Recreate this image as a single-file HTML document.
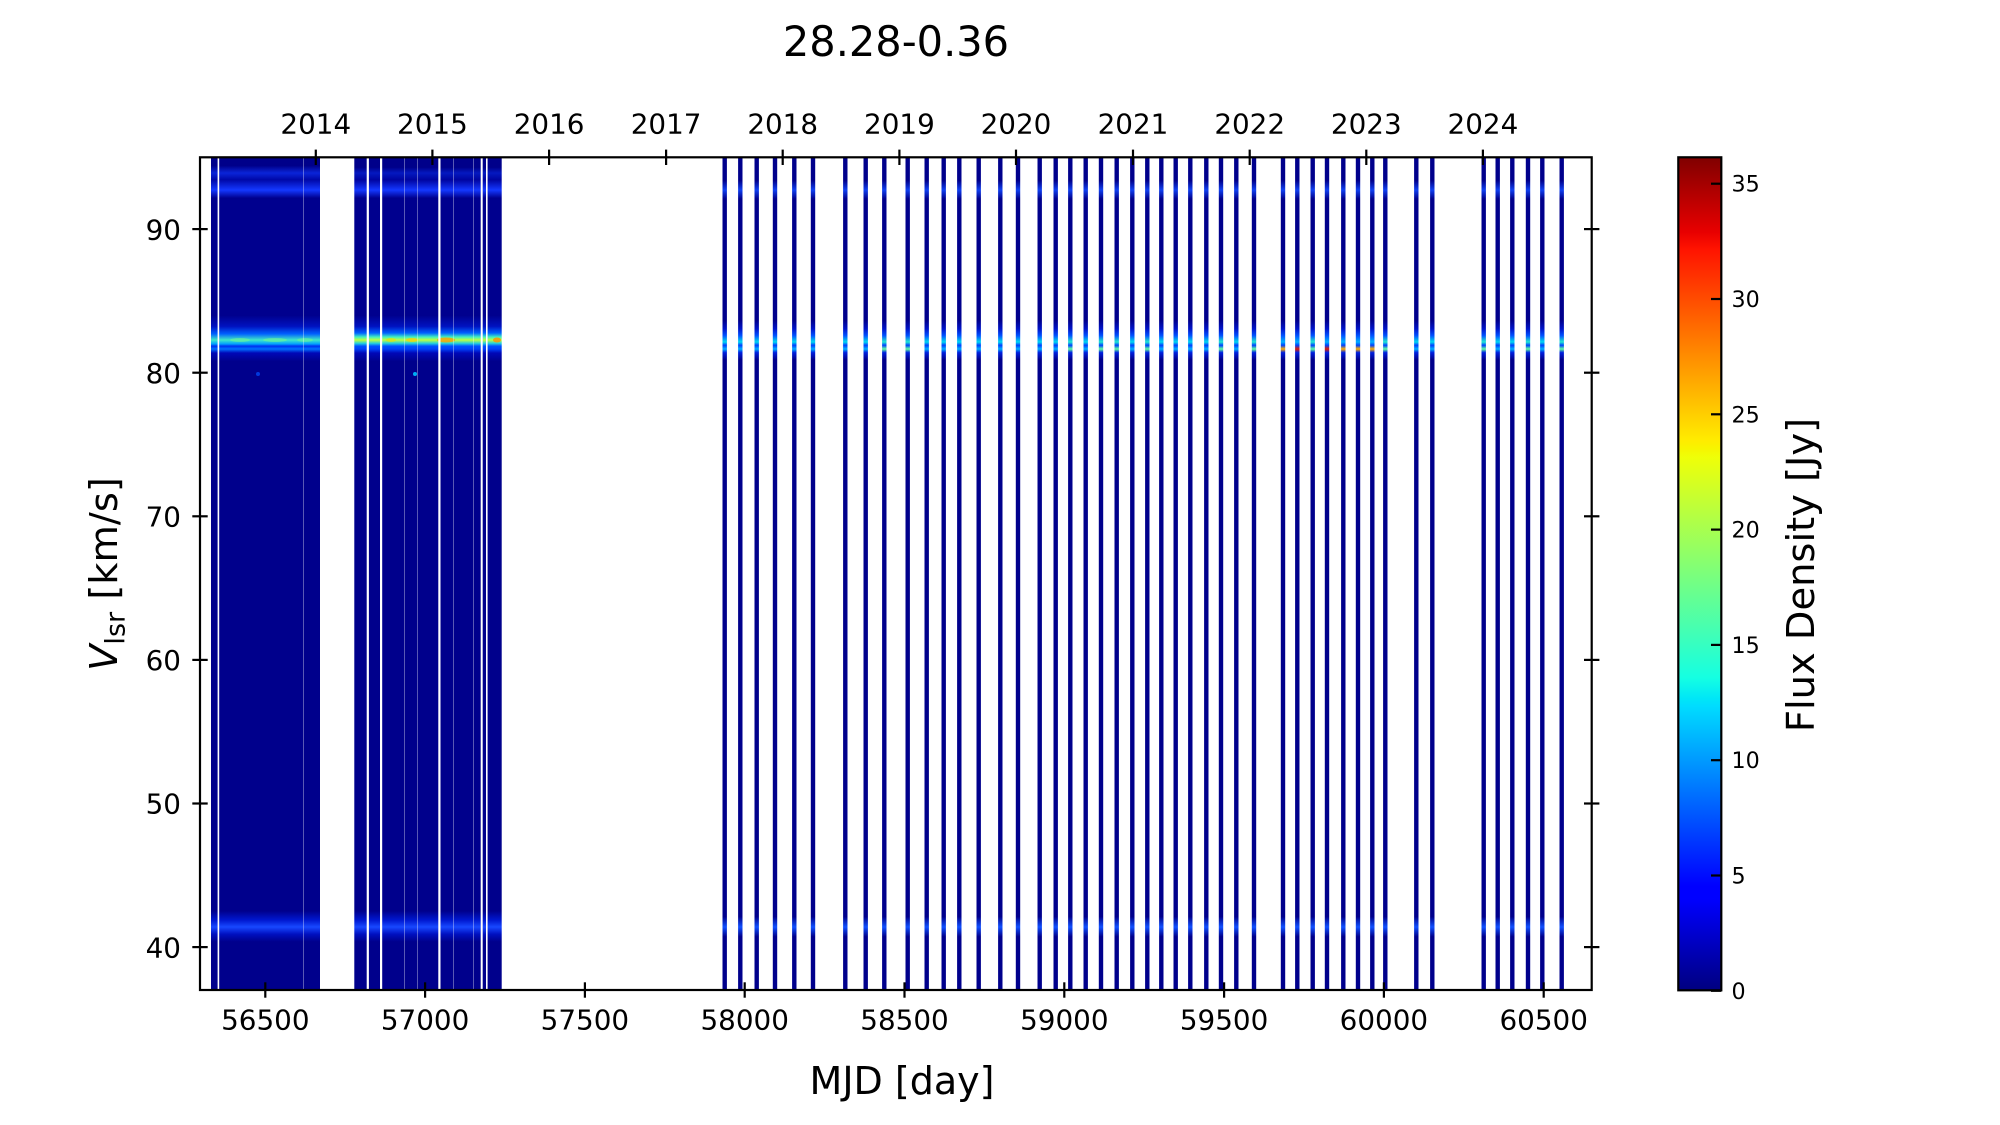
<!DOCTYPE html>
<html><head><meta charset="utf-8"><style>
html,body{margin:0;padding:0;background:#fff;}
svg{display:block;}
text{font-family:"DejaVu Sans","Liberation Sans",sans-serif;fill:#000;}
</style></head><body>
<svg width="2000" height="1125" viewBox="0 0 2000 1125" xmlns="http://www.w3.org/2000/svg">
<defs>
<linearGradient id="jet" x1="0" y1="1" x2="0" y2="0">
<stop offset="0" stop-color="rgb(0,0,128)"/>
<stop offset="0.11" stop-color="rgb(0,0,255)"/>
<stop offset="0.125" stop-color="rgb(0,0,255)"/>
<stop offset="0.34" stop-color="rgb(0,219,255)"/>
<stop offset="0.35" stop-color="rgb(0,230,247)"/>
<stop offset="0.375" stop-color="rgb(21,255,226)"/>
<stop offset="0.64" stop-color="rgb(239,255,8)"/>
<stop offset="0.65" stop-color="rgb(247,245,0)"/>
<stop offset="0.66" stop-color="rgb(255,236,0)"/>
<stop offset="0.89" stop-color="rgb(255,19,0)"/>
<stop offset="0.91" stop-color="rgb(232,0,0)"/>
<stop offset="1" stop-color="rgb(128,0,0)"/>
</linearGradient>

<linearGradient id="gE1" gradientUnits="userSpaceOnUse" x1="0" y1="157.3" x2="0" y2="990">
<stop offset="0" stop-color="#00008a"/>
<stop offset="0.010" stop-color="#00008a"/>
<stop offset="0.0189" stop-color="#0a24d8"/>
<stop offset="0.027" stop-color="#0008a8"/>
<stop offset="0.0393" stop-color="#1438ff"/>
<stop offset="0.049" stop-color="#00008e"/>
<stop offset="0.19" stop-color="#00008e"/>
<stop offset="0.203" stop-color="#0012c0"/>
<stop offset="0.212" stop-color="#0060ff"/>
<stop offset="0.2194" stop-color="#40e8c8"/>
<stop offset="0.2242" stop-color="#00a0ff"/>
<stop offset="0.2268" stop-color="#0030f0"/>
<stop offset="0.2302" stop-color="#0070ff"/>
<stop offset="0.235" stop-color="#0008b8"/>
<stop offset="0.245" stop-color="#00008c"/>
<stop offset="0.905" stop-color="#00008c"/>
<stop offset="0.916" stop-color="#0018d0"/>
<stop offset="0.9243" stop-color="#1848ff"/>
<stop offset="0.933" stop-color="#0010c0"/>
<stop offset="0.942" stop-color="#00008c"/>
<stop offset="1" stop-color="#00008c"/>
</linearGradient>

<linearGradient id="gE2" gradientUnits="userSpaceOnUse" x1="0" y1="157.3" x2="0" y2="990">
<stop offset="0" stop-color="#00008a"/>
<stop offset="0.012" stop-color="#00008a"/>
<stop offset="0.0189" stop-color="#0418c0"/>
<stop offset="0.027" stop-color="#0004a0"/>
<stop offset="0.0393" stop-color="#1438ff"/>
<stop offset="0.049" stop-color="#00008e"/>
<stop offset="0.19" stop-color="#00008e"/>
<stop offset="0.203" stop-color="#0012c0"/>
<stop offset="0.211" stop-color="#0060ff"/>
<stop offset="0.2158" stop-color="#40f0c0"/>
<stop offset="0.2194" stop-color="#c0ff40"/>
<stop offset="0.2235" stop-color="#20d0e0"/>
<stop offset="0.2268" stop-color="#0050ff"/>
<stop offset="0.2302" stop-color="#0040f8"/>
<stop offset="0.235" stop-color="#0008b8"/>
<stop offset="0.245" stop-color="#00008c"/>
<stop offset="0.905" stop-color="#00008c"/>
<stop offset="0.916" stop-color="#0018d0"/>
<stop offset="0.9243" stop-color="#1848ff"/>
<stop offset="0.933" stop-color="#0010c0"/>
<stop offset="0.942" stop-color="#00008c"/>
<stop offset="1" stop-color="#00008c"/>
</linearGradient>

<linearGradient id="gA" gradientUnits="userSpaceOnUse" x1="0" y1="157.3" x2="0" y2="990">
<stop offset="0" stop-color="#00008c"/>
<stop offset="0.028" stop-color="#00008c"/>
<stop offset="0.0393" stop-color="#1040f0"/>
<stop offset="0.05" stop-color="#00008c"/>
<stop offset="0.196" stop-color="#00008c"/>
<stop offset="0.206" stop-color="#0014c8"/>
<stop offset="0.214" stop-color="#0050ff"/>
<stop offset="0.2218" stop-color="#00d8f0"/>
<stop offset="0.2258" stop-color="#0040ff"/>
<stop offset="0.2302" stop-color="#00b0ff"/>
<stop offset="0.2345" stop-color="#0020e0"/>
<stop offset="0.243" stop-color="#00008c"/>
<stop offset="0.912" stop-color="#00008c"/>
<stop offset="0.9243" stop-color="#1050ff"/>
<stop offset="0.936" stop-color="#00008c"/>
<stop offset="1" stop-color="#00008c"/>
</linearGradient>

<linearGradient id="gB" gradientUnits="userSpaceOnUse" x1="0" y1="157.3" x2="0" y2="990">
<stop offset="0" stop-color="#00008c"/>
<stop offset="0.028" stop-color="#00008c"/>
<stop offset="0.0393" stop-color="#1040f0"/>
<stop offset="0.05" stop-color="#00008c"/>
<stop offset="0.196" stop-color="#00008c"/>
<stop offset="0.206" stop-color="#0014c8"/>
<stop offset="0.214" stop-color="#0050ff"/>
<stop offset="0.2218" stop-color="#20e8d0"/>
<stop offset="0.2258" stop-color="#0040ff"/>
<stop offset="0.2302" stop-color="#60ffa0"/>
<stop offset="0.2345" stop-color="#0020e0"/>
<stop offset="0.243" stop-color="#00008c"/>
<stop offset="0.912" stop-color="#00008c"/>
<stop offset="0.9243" stop-color="#1050ff"/>
<stop offset="0.936" stop-color="#00008c"/>
<stop offset="1" stop-color="#00008c"/>
</linearGradient>

<linearGradient id="gH" gradientUnits="userSpaceOnUse" x1="0" y1="157.3" x2="0" y2="990">
<stop offset="0" stop-color="#00008c"/>
<stop offset="0.028" stop-color="#00008c"/>
<stop offset="0.0393" stop-color="#1040f0"/>
<stop offset="0.05" stop-color="#00008c"/>
<stop offset="0.196" stop-color="#00008c"/>
<stop offset="0.206" stop-color="#0014c8"/>
<stop offset="0.214" stop-color="#0050ff"/>
<stop offset="0.2218" stop-color="#00b0ff"/>
<stop offset="0.2258" stop-color="#0040ff"/>
<stop offset="0.2302" stop-color="#ffb000"/>
<stop offset="0.2345" stop-color="#0020e0"/>
<stop offset="0.243" stop-color="#00008c"/>
<stop offset="0.912" stop-color="#00008c"/>
<stop offset="0.9243" stop-color="#1050ff"/>
<stop offset="0.936" stop-color="#00008c"/>
<stop offset="1" stop-color="#00008c"/>
</linearGradient>

<linearGradient id="gR" gradientUnits="userSpaceOnUse" x1="0" y1="157.3" x2="0" y2="990">
<stop offset="0" stop-color="#00008c"/>
<stop offset="0.028" stop-color="#00008c"/>
<stop offset="0.0393" stop-color="#1040f0"/>
<stop offset="0.05" stop-color="#00008c"/>
<stop offset="0.196" stop-color="#00008c"/>
<stop offset="0.206" stop-color="#0014c8"/>
<stop offset="0.214" stop-color="#0050ff"/>
<stop offset="0.2218" stop-color="#00b0ff"/>
<stop offset="0.2258" stop-color="#0040ff"/>
<stop offset="0.2302" stop-color="#e01800"/>
<stop offset="0.2345" stop-color="#0020e0"/>
<stop offset="0.243" stop-color="#00008c"/>
<stop offset="0.912" stop-color="#00008c"/>
<stop offset="0.9243" stop-color="#1050ff"/>
<stop offset="0.936" stop-color="#00008c"/>
<stop offset="1" stop-color="#00008c"/>
</linearGradient>
</defs>

<!-- Title -->
<text x="896" y="56" font-size="41.5" text-anchor="middle">28.28-0.36</text>

<!-- Early blocks -->
<rect x="211" y="157.3" width="109" height="832.7" fill="url(#gE1)"/>
<rect x="354.3" y="157.3" width="147.4" height="832.7" fill="url(#gE2)"/>
<!-- band texture in block 1 -->
<ellipse cx="240" cy="340" rx="10" ry="2" fill="#80ff80" opacity="0.45"/>
<ellipse cx="275" cy="340" rx="12" ry="2" fill="#80ff80" opacity="0.45"/>
<ellipse cx="305" cy="340" rx="8" ry="2" fill="#80ff80" opacity="0.4"/>
<!-- orange spots in block 2 -->
<ellipse cx="446" cy="340" rx="9" ry="2.5" fill="#ff9a00" opacity="0.75"/>
<ellipse cx="497" cy="340" rx="4" ry="2.5" fill="#ff9000" opacity="0.8"/>
<ellipse cx="412" cy="340" rx="6" ry="2" fill="#ffd000" opacity="0.7"/>
<ellipse cx="391" cy="340" rx="5" ry="2" fill="#f0e000" opacity="0.6"/>
<!-- faint spots near 80 -->
<ellipse cx="258" cy="374" rx="2" ry="2" fill="#0050ff" opacity="0.7"/>
<ellipse cx="415" cy="374" rx="2" ry="2" fill="#00c0ff" opacity="0.9"/>
<!-- gaps / faint column boundaries -->
<g fill="#fff">
<rect x="217.6" y="157.3" width="1.6" height="832.7"/>
<rect x="366.7" y="157.3" width="2.2" height="832.7"/>
<rect x="380" y="157.3" width="2.2" height="832.7"/>
<rect x="438.3" y="157.3" width="2.2" height="832.7"/>
<rect x="480.7" y="157.3" width="2" height="832.7"/>
<rect x="486" y="157.3" width="1.6" height="832.7"/>
</g>
<g fill="#fff" opacity="0.35">
<rect x="303" y="157.3" width="1" height="832.7"/>
<rect x="404" y="157.3" width="1" height="832.7"/>
<rect x="417" y="157.3" width="1" height="832.7"/>
<rect x="453" y="157.3" width="1" height="832.7"/>
<rect x="473" y="157.3" width="1" height="832.7"/>
</g>

<!-- Late observation lines -->
<g>
<rect x="722.5" y="157.3" width="4.4" height="832.7" fill="url(#gA)"/>
<rect x="738.1" y="157.3" width="4.4" height="832.7" fill="url(#gA)"/>
<rect x="754.5" y="157.3" width="4.4" height="832.7" fill="url(#gA)"/>
<rect x="772.8" y="157.3" width="4.4" height="832.7" fill="url(#gA)"/>
<rect x="792.1" y="157.3" width="4.4" height="832.7" fill="url(#gA)"/>
<rect x="810.8" y="157.3" width="4.4" height="832.7" fill="url(#gA)"/>
<rect x="843.1" y="157.3" width="4.4" height="832.7" fill="url(#gA)"/>
<rect x="863.5" y="157.3" width="4.4" height="832.7" fill="url(#gA)"/>
<rect x="882.1" y="157.3" width="4.4" height="832.7" fill="url(#gB)"/>
<rect x="905.5" y="157.3" width="4.4" height="832.7" fill="url(#gB)"/>
<rect x="924.5" y="157.3" width="4.4" height="832.7" fill="url(#gA)"/>
<rect x="941.5" y="157.3" width="4.4" height="832.7" fill="url(#gA)"/>
<rect x="957.1" y="157.3" width="4.4" height="832.7" fill="url(#gA)"/>
<rect x="976.5" y="157.3" width="4.4" height="832.7" fill="url(#gA)"/>
<rect x="998.1" y="157.3" width="4.4" height="832.7" fill="url(#gA)"/>
<rect x="1015.8" y="157.3" width="4.4" height="832.7" fill="url(#gA)"/>
<rect x="1037.5" y="157.3" width="4.4" height="832.7" fill="url(#gA)"/>
<rect x="1053.5" y="157.3" width="4.4" height="832.7" fill="url(#gA)"/>
<rect x="1068.1" y="157.3" width="4.4" height="832.7" fill="url(#gB)"/>
<rect x="1083.5" y="157.3" width="4.4" height="832.7" fill="url(#gA)"/>
<rect x="1098.8" y="157.3" width="4.4" height="832.7" fill="url(#gB)"/>
<rect x="1114.5" y="157.3" width="4.4" height="832.7" fill="url(#gB)"/>
<rect x="1130.1" y="157.3" width="4.4" height="832.7" fill="url(#gA)"/>
<rect x="1145.1" y="157.3" width="4.4" height="832.7" fill="url(#gB)"/>
<rect x="1159.1" y="157.3" width="4.4" height="832.7" fill="url(#gA)"/>
<rect x="1173.5" y="157.3" width="4.4" height="832.7" fill="url(#gA)"/>
<rect x="1188.1" y="157.3" width="4.4" height="832.7" fill="url(#gA)"/>
<rect x="1204.1" y="157.3" width="4.4" height="832.7" fill="url(#gA)"/>
<rect x="1218.8" y="157.3" width="4.4" height="832.7" fill="url(#gB)"/>
<rect x="1234.1" y="157.3" width="4.4" height="832.7" fill="url(#gA)"/>
<rect x="1251.8" y="157.3" width="4.4" height="832.7" fill="url(#gB)"/>
<rect x="1280.8" y="157.3" width="4.4" height="832.7" fill="url(#gH)"/>
<rect x="1295.1" y="157.3" width="4.4" height="832.7" fill="url(#gR)"/>
<rect x="1310.5" y="157.3" width="4.4" height="832.7" fill="url(#gB)"/>
<rect x="1324.8" y="157.3" width="4.4" height="832.7" fill="url(#gR)"/>
<rect x="1341.1" y="157.3" width="4.4" height="832.7" fill="url(#gH)"/>
<rect x="1355.8" y="157.3" width="4.4" height="832.7" fill="url(#gH)"/>
<rect x="1370.1" y="157.3" width="4.4" height="832.7" fill="url(#gH)"/>
<rect x="1383.1" y="157.3" width="4.4" height="832.7" fill="url(#gB)"/>
<rect x="1414.1" y="157.3" width="4.4" height="832.7" fill="url(#gA)"/>
<rect x="1430.1" y="157.3" width="4.4" height="832.7" fill="url(#gA)"/>
<rect x="1481.5" y="157.3" width="4.4" height="832.7" fill="url(#gB)"/>
<rect x="1495.5" y="157.3" width="4.4" height="832.7" fill="url(#gA)"/>
<rect x="1510.1" y="157.3" width="4.4" height="832.7" fill="url(#gA)"/>
<rect x="1525.8" y="157.3" width="4.4" height="832.7" fill="url(#gB)"/>
<rect x="1540.1" y="157.3" width="4.4" height="832.7" fill="url(#gA)"/>
<rect x="1559.5" y="157.3" width="4.4" height="832.7" fill="url(#gB)"/>
</g>

<!-- Axes frame -->
<rect x="200" y="157.3" width="1391.7" height="832.7" fill="none" stroke="#000" stroke-width="2.2"/>

<!-- ticks -->
<g stroke="#000" stroke-width="2.2">
<line x1="192.3" y1="229.1" x2="207.7" y2="229.1"/>
<line x1="192.3" y1="372.7" x2="207.7" y2="372.7"/>
<line x1="192.3" y1="516.3" x2="207.7" y2="516.3"/>
<line x1="192.3" y1="659.9" x2="207.7" y2="659.9"/>
<line x1="192.3" y1="803.5" x2="207.7" y2="803.5"/>
<line x1="192.3" y1="947.1" x2="207.7" y2="947.1"/>
<line x1="1584" y1="229.1" x2="1599.4" y2="229.1"/>
<line x1="1584" y1="372.7" x2="1599.4" y2="372.7"/>
<line x1="1584" y1="516.3" x2="1599.4" y2="516.3"/>
<line x1="1584" y1="659.9" x2="1599.4" y2="659.9"/>
<line x1="1584" y1="803.5" x2="1599.4" y2="803.5"/>
<line x1="1584" y1="947.1" x2="1599.4" y2="947.1"/>
<line x1="265.3" y1="982.3" x2="265.3" y2="997.7"/>
<line x1="425.1" y1="982.3" x2="425.1" y2="997.7"/>
<line x1="584.9" y1="982.3" x2="584.9" y2="997.7"/>
<line x1="744.7" y1="982.3" x2="744.7" y2="997.7"/>
<line x1="904.5" y1="982.3" x2="904.5" y2="997.7"/>
<line x1="1064.3" y1="982.3" x2="1064.3" y2="997.7"/>
<line x1="1224.1" y1="982.3" x2="1224.1" y2="997.7"/>
<line x1="1383.9" y1="982.3" x2="1383.9" y2="997.7"/>
<line x1="1543.7" y1="982.3" x2="1543.7" y2="997.7"/>
<line x1="315.8" y1="149.6" x2="315.8" y2="165"/>
<line x1="432.4" y1="149.6" x2="432.4" y2="165"/>
<line x1="549.1" y1="149.6" x2="549.1" y2="165"/>
<line x1="666.1" y1="149.6" x2="666.1" y2="165"/>
<line x1="782.7" y1="149.6" x2="782.7" y2="165"/>
<line x1="899.4" y1="149.6" x2="899.4" y2="165"/>
<line x1="1016" y1="149.6" x2="1016" y2="165"/>
<line x1="1133" y1="149.6" x2="1133" y2="165"/>
<line x1="1249.7" y1="149.6" x2="1249.7" y2="165"/>
<line x1="1366.3" y1="149.6" x2="1366.3" y2="165"/>
<line x1="1482.9" y1="149.6" x2="1482.9" y2="165"/>
</g>

<!-- Y tick labels -->
<g font-size="27.8" text-anchor="end">
<text x="181" y="239.3">90</text>
<text x="181" y="382.9">80</text>
<text x="181" y="526.5">70</text>
<text x="181" y="670.1">60</text>
<text x="181" y="813.7">50</text>
<text x="181" y="957.3">40</text>
</g>

<!-- X tick labels -->
<g font-size="27.8" text-anchor="middle">
<text x="265.3" y="1029.5">56500</text>
<text x="425.1" y="1029.5">57000</text>
<text x="584.9" y="1029.5">57500</text>
<text x="744.7" y="1029.5">58000</text>
<text x="904.5" y="1029.5">58500</text>
<text x="1064.3" y="1029.5">59000</text>
<text x="1224.1" y="1029.5">59500</text>
<text x="1383.9" y="1029.5">60000</text>
<text x="1543.7" y="1029.5">60500</text>
</g>

<!-- Year labels -->
<g font-size="27.8" text-anchor="middle">
<text x="315.8" y="133.5">2014</text>
<text x="432.4" y="133.5">2015</text>
<text x="549.1" y="133.5">2016</text>
<text x="666.1" y="133.5">2017</text>
<text x="782.7" y="133.5">2018</text>
<text x="899.4" y="133.5">2019</text>
<text x="1016" y="133.5">2020</text>
<text x="1133" y="133.5">2021</text>
<text x="1249.7" y="133.5">2022</text>
<text x="1366.3" y="133.5">2023</text>
<text x="1482.9" y="133.5">2024</text>
</g>

<!-- Axis labels -->
<text x="902" y="1094" font-size="38" text-anchor="middle">MJD [day]</text>
<text transform="translate(117,574) rotate(-90)" font-size="38.4" text-anchor="middle"><tspan font-style="italic">V</tspan><tspan font-size="27" dy="7.5">lsr</tspan><tspan dy="-7.5"> [km/s]</tspan></text>

<!-- Colorbar -->
<rect x="1678.3" y="157.3" width="43" height="833" fill="url(#jet)" stroke="#000" stroke-width="2.2"/>
<g stroke="#000" stroke-width="2.2">
<line x1="1711" y1="990.8" x2="1721.3" y2="990.8"/>
<line x1="1711" y1="875.5" x2="1721.3" y2="875.5"/>
<line x1="1711" y1="760.2" x2="1721.3" y2="760.2"/>
<line x1="1711" y1="644.9" x2="1721.3" y2="644.9"/>
<line x1="1711" y1="529.6" x2="1721.3" y2="529.6"/>
<line x1="1711" y1="414.3" x2="1721.3" y2="414.3"/>
<line x1="1711" y1="299" x2="1721.3" y2="299"/>
<line x1="1711" y1="183.7" x2="1721.3" y2="183.7"/>
</g>
<g font-size="22.2">
<text x="1731.5" y="998.8">0</text>
<text x="1731.5" y="883.5">5</text>
<text x="1731.5" y="768.2">10</text>
<text x="1731.5" y="652.9">15</text>
<text x="1731.5" y="537.6">20</text>
<text x="1731.5" y="422.3">25</text>
<text x="1731.5" y="307">30</text>
<text x="1731.5" y="191.7">35</text>
</g>
<text transform="translate(1814,575) rotate(-90)" font-size="38.4" text-anchor="middle">Flux Density [Jy]</text>
</svg>
</body></html>
